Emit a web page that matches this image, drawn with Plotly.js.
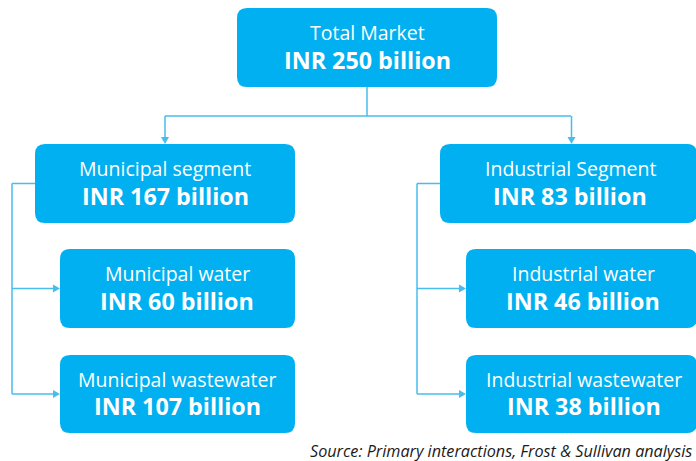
<!DOCTYPE html>
<html><head><meta charset="utf-8">
<script src="https://cdn.plot.ly/plotly-3.0.1.min.js"></script>
<style>html,body{margin:0;padding:0;background:#fff}#chart{width:696px;height:461px}</style>
</head><body><div id="chart"></div>
<script>
// ---- data ----
var nodeTitles = ["Total Market", "Municipal segment", "Municipal water", "Municipal wastewater", "Industrial\u00a0Segment", "Industrial\u00a0water", "Industrial\u00a0wastewater"];
var nodeValues = [250, 167, 60, 107, 83, 46, 38];
var nodeParents = [-1, 0, 1, 1, 0, 4, 4];
var valueUnit = "billion";
var currency = "INR";
var sourceText = "Source: Primary interactions, Frost & Sullivan analysis";

// ---- layout geometry (pixels) ----
var boxes = [
  {x0:237, x1:497, y0:8,   y1:87},
  {x0:35,  x1:295, y0:144, y1:223},
  {x0:60,  x1:295, y0:249, y1:328},
  {x0:60,  x1:295, y0:355, y1:433},
  {x0:440, x1:697, y0:144, y1:223},
  {x0:466, x1:697, y0:249, y1:328},
  {x0:466, x1:697, y0:355, y1:433}
];
var textCx = [367, 165, 177, 177, 570, 583, 584];
var boxColor = "#00B0F0";
var lineColor = "#47BDEE";
var fontFam = "'Open Sans', sans-serif";

function roundRect(b, r) {
  return "M" + (b.x0 + r) + "," + b.y0 + " L" + (b.x1 - r) + "," + b.y0 +
    " Q" + b.x1 + "," + b.y0 + " " + b.x1 + "," + (b.y0 + r) +
    " L" + b.x1 + "," + (b.y1 - r) + " Q" + b.x1 + "," + b.y1 + " " + (b.x1 - r) + "," + b.y1 +
    " L" + (b.x0 + r) + "," + b.y1 + " Q" + b.x0 + "," + b.y1 + " " + b.x0 + "," + (b.y1 - r) +
    " L" + b.x0 + "," + (b.y0 + r) + " Q" + b.x0 + "," + b.y0 + " " + (b.x0 + r) + "," + b.y0 + " Z";
}
function line(x0, y0, x1, y1) {
  return {type:"line", xref:"x", yref:"y", x0:x0, y0:y0, x1:x1, y1:y1, layer:"below",
    line:{color:lineColor, width:1.5}};
}
function arrowDown(x, y) {
  return {type:"path", xref:"x", yref:"y", path:"M" + (x-4) + "," + (y-7) + " L" + (x+4) + "," + (y-7) + " L" + x + "," + y + " Z",
    fillcolor:lineColor, line:{width:0}};
}
function arrowRight(x, y) {
  return {type:"path", xref:"x", yref:"y", path:"M" + (x-7) + "," + (y-4) + " L" + (x-7) + "," + (y+4) + " L" + x + "," + y + " Z",
    fillcolor:lineColor, line:{width:0}};
}

var shapes = [];
var annotations = [];
var hLineY = 116;
var sideX = {1: 12, 4: 417};

// connectors
nodeParents.forEach(function(p, i) {
  if (p < 0) return;
  var b = boxes[i];
  if (nodeParents[p] < 0) {
    var cx = (b.x0 + b.x1) / 2 + (i === 4 ? 3 : 0);
    shapes.push(line(cx, hLineY, cx, b.y0 - 6));
    shapes.push(arrowDown(cx, b.y0));
  } else {
    var sx = sideX[p];
    var cy = (b.y0 + b.y1) / 2;
    shapes.push(line(sx, cy, b.x0 - 6, cy));
    shapes.push(arrowRight(b.x0, cy));
  }
});
var rootCx = (boxes[0].x0 + boxes[0].x1) / 2;
shapes.push(line(rootCx, boxes[0].y1, rootCx, hLineY));
shapes.push(line(165, hLineY, 571, hLineY));
[1, 4].forEach(function(p) {
  var b = boxes[p];
  var cy = (b.y0 + b.y1) / 2;
  var lastChild = boxes[p + 2];
  var ly = (lastChild.y0 + lastChild.y1) / 2;
  shapes.push(line(b.x0, cy, sideX[p], cy));
  shapes.push(line(sideX[p], cy, sideX[p], ly));
});

boxes.forEach(function(b) {
  shapes.push({type:"path", xref:"x", yref:"y", path:roundRect(b, 10), fillcolor:boxColor, line:{width:0}, layer:"above"});
});

nodeTitles.forEach(function(t, i) {
  var b = boxes[i];
  var cy = (b.y0 + b.y1) / 2;
  annotations.push({x:textCx[i], y:cy - 15, xref:"x", yref:"y", text:t, showarrow:false,
    font:{family:fontFam, size:19.5, color:"#fff"}, xanchor:"center", yanchor:"middle"});
  annotations.push({x:textCx[i], y:cy + 12, xref:"x", yref:"y", text:"<b>" + currency + " " + nodeValues[i] + " " + valueUnit + "</b>", showarrow:false,
    font:{family:fontFam, size:23.3, color:"#fff"}, xanchor:"center", yanchor:"middle"});
});
annotations.push({x:694, y:451, xref:"x", yref:"y", text:"<i>" + sourceText + "</i>", showarrow:false,
  font:{family:fontFam, size:16.2, color:"#1a1a1a"}, xanchor:"right", yanchor:"middle"});

var layout = {
  width:696, height:461,
  margin:{l:0, r:0, t:0, b:0},
  paper_bgcolor:"#fff", plot_bgcolor:"#fff",
  xaxis:{range:[0,696], visible:false, fixedrange:true},
  yaxis:{range:[461,0], visible:false, fixedrange:true},
  showlegend:false,
  shapes:shapes,
  annotations:annotations
};
Plotly.newPlot("chart", [{x:[], y:[], type:"scatter", mode:"markers", hoverinfo:"skip"}], layout, {staticPlot:true, displayModeBar:false});
</script></body></html>
